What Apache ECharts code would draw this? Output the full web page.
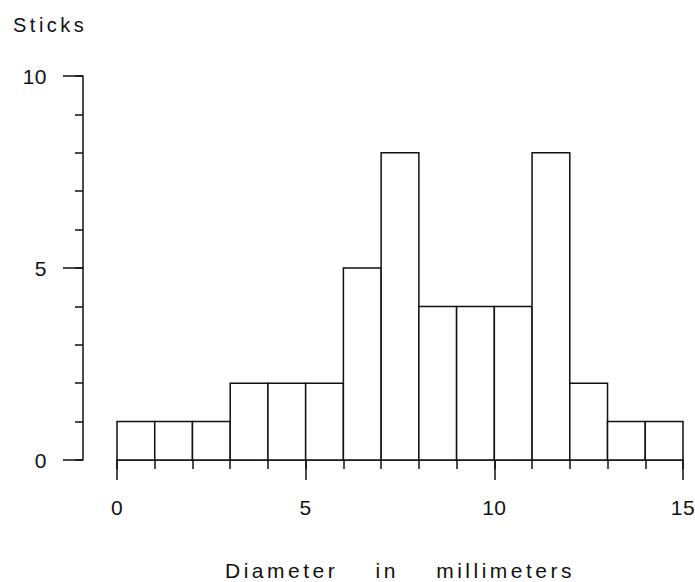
<!DOCTYPE html>
<html>
<head>
<meta charset="utf-8">
<script src="https://cdn.jsdelivr.net/npm/echarts@6/dist/echarts.min.js"></script>
<style>
  html, body { margin: 0; padding: 0; background: #fff; }
  #chart { width: 695px; height: 582px; }
  #chart svg text { letter-spacing: 3.5px; }
  #chart svg text.num { letter-spacing: 0.5px; }
</style>
</head>
<body>
<div id="chart"></div>
<script>
// Histogram bin edges (mm) and stick counts
const binStarts = [0, 1, 2, 3, 4, 5, 6, 7, 8, 9, 10, 11, 12, 13, 14];
const binEnds   = [1, 2, 3, 4, 5, 6, 7, 8, 9, 10, 11, 12, 13, 14, 15];
const counts    = [1, 1, 1, 2, 2, 2, 5, 8, 4, 4, 4, 8, 2, 1, 1];
const xMajorTicks = [0, 5, 10, 15];
const yMajorTicks = [0, 5, 10];
const yTitle = 'Sticks';
const xTitle = 'Diameter    in    millimeters';

const FONT = '"Liberation Sans", "DejaVu Sans", sans-serif';
const INK = '#111';

const data = binStarts.map((s, i) => [s, binEnds[i], counts[i]]);

const chart = echarts.init(document.getElementById('chart'), null, { renderer: 'svg' });
chart.setOption({
  animation: false,
  backgroundColor: '#fff',
  title: {
    text: yTitle,
    left: 8, top: 10,
    textStyle: { fontFamily: FONT, fontSize: 20, fontWeight: 'normal', color: INK }
  },
  grid: [
    { left: 117, right: 12, top: 76, bottom: 122, outerBoundsMode: 'none', containLabel: false },
    { left: 83, width: 20, top: 76, bottom: 122, outerBoundsMode: 'none', containLabel: false }
  ],
  xAxis: [
    {
      gridIndex: 0, type: 'value', min: 0, max: 15, interval: 5, position: 'bottom',
      axisLine: { show: true, lineStyle: { color: INK, width: 1.5 } },
      axisTick: { show: true, length: 20, lineStyle: { color: INK, width: 1.5 }, customValues: xMajorTicks },
      axisLabel: { margin: 37, fontFamily: FONT, fontSize: 21, color: INK, customValues: xMajorTicks },
      splitLine: { show: false },
      name: xTitle, nameLocation: 'middle', nameGap: 100,
      nameTextStyle: { fontFamily: FONT, fontSize: 21, color: INK }
    },
    {
      gridIndex: 0, type: 'value', min: 0, max: 15, interval: 1, position: 'bottom',
      axisLine: { show: false },
      axisTick: { show: true, length: 9, lineStyle: { color: INK, width: 1.5 } },
      axisLabel: { show: false },
      splitLine: { show: false }
    },
    {
      gridIndex: 1, type: 'value', min: 0, max: 1, show: false
    }
  ],
  yAxis: [
    {
      gridIndex: 0, type: 'value', min: 0, max: 10, show: false
    },
    {
      gridIndex: 1, type: 'value', min: 0, max: 10, interval: 5, position: 'left',
      axisLine: { show: true, lineStyle: { color: INK, width: 1.5 } },
      axisTick: { show: true, length: 20, lineStyle: { color: INK, width: 1.5 }, customValues: yMajorTicks },
      axisLabel: { margin: 36, fontFamily: FONT, fontSize: 21, color: INK, customValues: yMajorTicks },
      splitLine: { show: false }
    },
    {
      gridIndex: 1, type: 'value', min: 0, max: 10, interval: 1, position: 'left',
      axisLine: { show: false },
      axisTick: { show: true, length: 8, lineStyle: { color: INK, width: 1.5 } },
      axisLabel: { show: false },
      splitLine: { show: false }
    }
  ],
  series: [{
    type: 'custom',
    xAxisIndex: 0, yAxisIndex: 0,
    encode: { x: [0, 1], y: 2 },
    data: data,
    renderItem: function (params, api) {
      const p0 = api.coord([api.value(0), api.value(2)]);
      const p1 = api.coord([api.value(1), 0]);
      return {
        type: 'rect',
        shape: { x: p0[0], y: p0[1], width: p1[0] - p0[0], height: p1[1] - p0[1] },
        style: { fill: '#fff', stroke: INK, lineWidth: 1.5 }
      };
    }
  }]
});

// numeric tick labels keep tight spacing; word labels are spaced out like the plotter lettering
document.querySelectorAll('#chart svg text').forEach(function (t) {
  if (/^\s*\d+\s*$/.test(t.textContent)) t.classList.add('num');
});
</script>
</body>
</html>
